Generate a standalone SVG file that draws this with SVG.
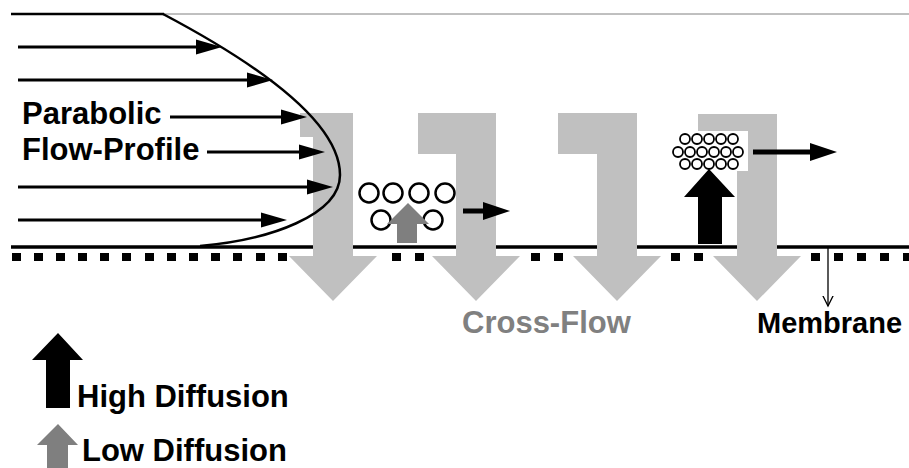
<svg xmlns="http://www.w3.org/2000/svg" width="909" height="468" viewBox="0 0 909 468">
  <style>
    .lbl { font-family: "Liberation Sans", Arial, sans-serif; font-weight: bold; font-size: 31px; fill: #000; }
    .lbl-gray { fill: #808080; }
    .lbl-small { font-size: 29px; }
    .flow { stroke: #000; stroke-width: 3; fill: none; }
    .bold-flow { stroke: #000; stroke-width: 5; fill: none; }
    .xflow { fill: #c0c0c0; }
    .pore { fill: #000; }
    .big { fill: none; stroke: #000; stroke-width: 2.5; }
    .small { fill: #fff; stroke: #000; stroke-width: 1.8; }
  </style>
  <defs>
    <marker id="head" markerUnits="userSpaceOnUse" markerWidth="28" markerHeight="18" viewBox="0 -9 28 18" refX="0" refY="0" orient="auto">
      <path d="M0,-7.5 L26,0 L0,7.5 Z" fill="#000"/>
    </marker>
    <marker id="head-bold" markerUnits="userSpaceOnUse" markerWidth="30" markerHeight="22" viewBox="0 -11 30 22" refX="0" refY="0" orient="auto">
      <path d="M0,-9 L27,0 L0,9 Z" fill="#000"/>
    </marker>
    <marker id="vee" markerUnits="userSpaceOnUse" markerWidth="20" markerHeight="20" viewBox="-10 -10 20 20" refX="0" refY="0" orient="auto">
      <path d="M-12,-6 L0,0 L-12,6" fill="none" stroke="#000" stroke-width="1.3"/>
    </marker>
  </defs>

  <rect width="909" height="468" fill="#fff"/>

  <!-- channel top wall -->
  <g id="top-wall">
    <line x1="163" y1="14" x2="909" y2="14" stroke="#808080" stroke-width="1"/>
    <line x1="11" y1="14" x2="164" y2="14" stroke="#000" stroke-width="2.5"/>
  </g>

  <!-- membrane: solid skin plus pore squares -->
  <g id="membrane">
    <line x1="11" y1="247" x2="909" y2="247" stroke="#000" stroke-width="3.5"/>
    <rect class="pore" x="12" y="253" width="9" height="8"/>
    <rect class="pore" x="34" y="253" width="9" height="8"/>
    <rect class="pore" x="56" y="253" width="9" height="8"/>
    <rect class="pore" x="78" y="253" width="9" height="8"/>
    <rect class="pore" x="100" y="253" width="9" height="8"/>
    <rect class="pore" x="122" y="253" width="9" height="8"/>
    <rect class="pore" x="145" y="253" width="9" height="8"/>
    <rect class="pore" x="167" y="253" width="9" height="8"/>
    <rect class="pore" x="189" y="253" width="9" height="8"/>
    <rect class="pore" x="211" y="253" width="9" height="8"/>
    <rect class="pore" x="233" y="253" width="9" height="8"/>
    <rect class="pore" x="256" y="253" width="9" height="8"/>
    <rect class="pore" x="278" y="253" width="9" height="8"/>
    <rect class="pore" x="392" y="253" width="9" height="8"/>
    <rect class="pore" x="415" y="253" width="9" height="8"/>
    <rect class="pore" x="531" y="253" width="9" height="8"/>
    <rect class="pore" x="554" y="253" width="9" height="8"/>
    <rect class="pore" x="671" y="253" width="9" height="8"/>
    <rect class="pore" x="694" y="253" width="9" height="8"/>
    <rect class="pore" x="811" y="253" width="9" height="8"/>
    <rect class="pore" x="834" y="253" width="9" height="8"/>
    <rect class="pore" x="857" y="253" width="9" height="8"/>
    <rect class="pore" x="880" y="253" width="9" height="8"/>
    <rect class="pore" x="903" y="253" width="9" height="8"/>
  </g>

  <!-- cross-flow arrows -->
  <g id="cross-flow">
    <polygon class="xflow" points="300,113 353,113 353,256 377,256 333,301 289,256 313,256 313,137 300,137"/>
    <polygon class="xflow" points="418,113 496,113 496,256 520,256 476,301 432,256 456,256 456,154 418,154"/>
    <polygon class="xflow" points="558,113 637,113 637,256 661,256 617,301 573,256 597,256 597,154 558,154"/>
    <polygon class="xflow" points="698,114 777,114 777,256 801,256 757,301 713,256 737,256 737,154 698,154"/>
  </g>

  <!-- parabolic velocity profile -->
  <g id="flow-profile">
    <path d="M163,14 C250,60 340,120 340,175 C340,215 270,240 200,246" fill="none" stroke="#000" stroke-width="2.5"/>
  </g>

  <!-- low diffusion: loose particle layer -->
  <g id="low-diffusion">
    <circle class="big" cx="369" cy="193" r="9.5"/>
    <circle class="big" cx="393" cy="193" r="9.5"/>
    <circle class="big" cx="419" cy="193" r="9.5"/>
    <circle class="big" cx="445" cy="193" r="9.5"/>
    <circle class="big" cx="381" cy="220" r="9.5"/>
    <circle class="big" cx="433" cy="220" r="9.5"/>
    <polygon points="397,243 417,243 417,224 429,224 408,203 387,224 397,224" fill="#7f7f7f"/>
  </g>

  <!-- high diffusion: dense particle layer -->
  <g id="high-diffusion">
    <rect x="671" y="131" width="77" height="40" fill="#fff"/>
    <circle class="small" cx="685" cy="139" r="5"/>
    <circle class="small" cx="697" cy="139" r="5"/>
    <circle class="small" cx="709" cy="139" r="5"/>
    <circle class="small" cx="721" cy="139" r="5"/>
    <circle class="small" cx="733" cy="139" r="5"/>
    <circle class="small" cx="678" cy="152" r="5"/>
    <circle class="small" cx="690" cy="152" r="5"/>
    <circle class="small" cx="702" cy="152" r="5"/>
    <circle class="small" cx="714" cy="152" r="5"/>
    <circle class="small" cx="726" cy="152" r="5"/>
    <circle class="small" cx="738" cy="152" r="5"/>
    <circle class="small" cx="685" cy="164" r="5"/>
    <circle class="small" cx="697" cy="164" r="5"/>
    <circle class="small" cx="709" cy="164" r="5"/>
    <circle class="small" cx="721" cy="164" r="5"/>
    <circle class="small" cx="733" cy="164" r="5"/>
    <polygon points="698,244 722,244 722,197 735,197 709,169 684,197 698,197" fill="#000"/>
  </g>

  <!-- connectors -->
  <g id="connectors">
    <line class="flow" x1="18" y1="47" x2="196" y2="47" marker-end="url(#head)"/>
    <line class="flow" x1="18" y1="80" x2="247" y2="80" marker-end="url(#head)"/>
    <line class="flow" x1="170" y1="117" x2="281" y2="117" marker-end="url(#head)"/>
    <line class="flow" x1="207" y1="152" x2="299" y2="152" marker-end="url(#head)"/>
    <line class="flow" x1="18" y1="187" x2="307" y2="187" marker-end="url(#head)"/>
    <line class="flow" x1="18" y1="220" x2="261" y2="220" marker-end="url(#head)"/>
    <line class="bold-flow" x1="463" y1="211" x2="483" y2="211" marker-end="url(#head-bold)"/>
    <line class="bold-flow" x1="753" y1="152" x2="810" y2="152" marker-end="url(#head-bold)"/>
    <line x1="828" y1="248" x2="828" y2="306" stroke="#000" stroke-width="1.3" marker-end="url(#vee)"/>
  </g>

  <!-- labels -->
  <g id="labels">
    <text class="lbl" x="22" y="124">Parabolic</text>
    <text class="lbl" x="22" y="160">Flow-Profile</text>
    <text class="lbl lbl-gray" x="462" y="333">Cross-Flow</text>
    <text class="lbl lbl-small" x="757" y="333">Membrane</text>
  </g>

  <!-- legend -->
  <g id="legend">
    <polygon points="46,408 70,408 70,360 83,360 58,333 32,360 46,360" fill="#000"/>
    <text class="lbl" x="77" y="407">High Diffusion</text>
    <polygon points="47,468 68,468 68,445 78,445 58,424 37,445 47,445" fill="#7f7f7f"/>
    <text class="lbl" x="82" y="461">Low Diffusion</text>
  </g>
</svg>
